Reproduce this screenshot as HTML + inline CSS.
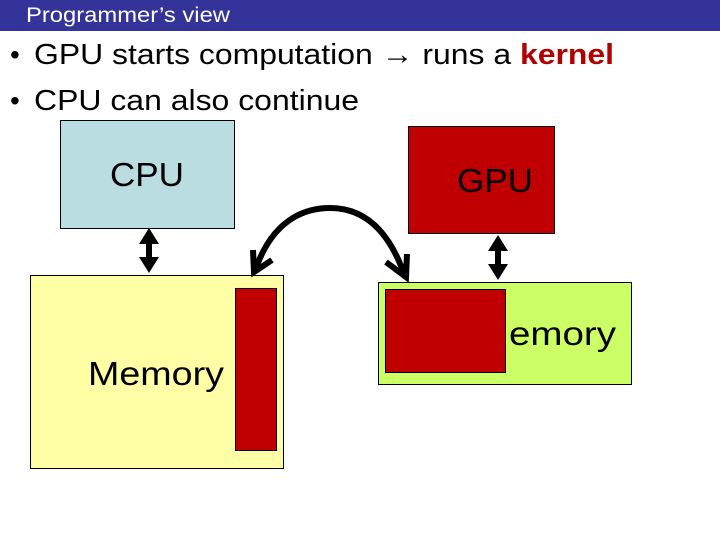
<!DOCTYPE html>
<html><head><style>body{margin:0;background:#fff}svg{display:block}</style></head><body>
<svg width="720" height="540" xmlns="http://www.w3.org/2000/svg" font-family="Liberation Sans, Arial, sans-serif">
<rect x="0" y="0" width="720" height="31" fill="#333399"/>
<text x="26" y="22" font-size="21" fill="#fff" textLength="204" lengthAdjust="spacingAndGlyphs">Programmer’s view</text>
<text x="10" y="64" font-size="28" fill="#000">•</text>
<text x="34" y="64" font-size="29" fill="#000" textLength="580" lengthAdjust="spacingAndGlyphs">GPU starts computation → runs a <tspan fill="#b00000" font-weight="bold">kernel</tspan></text>
<text x="10" y="110" font-size="28" fill="#000">•</text>
<text x="34" y="110" font-size="29" fill="#000" textLength="325" lengthAdjust="spacingAndGlyphs">CPU can also continue</text>
<rect x="60.5" y="120.5" width="174" height="108" fill="#b9dde1" stroke="#000"/>
<text x="110" y="186" font-size="33" textLength="74" lengthAdjust="spacingAndGlyphs">CPU</text>
<rect x="408.5" y="126.5" width="146" height="107" fill="#c00000" stroke="#000"/>
<text x="457" y="192" font-size="33" textLength="76" lengthAdjust="spacingAndGlyphs">GPU</text>
<rect x="30.5" y="275.5" width="253" height="193" fill="#ffffa6" stroke="#000"/>
<rect x="235.5" y="288.5" width="41" height="162" fill="#c00000" stroke="#000"/>
<text x="88" y="385" font-size="33" textLength="136" lengthAdjust="spacingAndGlyphs">Memory</text>
<rect x="378.5" y="282.5" width="253" height="102" fill="#ccff66" stroke="#000"/>
<rect x="385.5" y="289.5" width="120" height="83" fill="#c00000" stroke="#000"/>
<text x="509" y="345" font-size="33" textLength="107" lengthAdjust="spacingAndGlyphs">emory</text>
<g fill="#000">
<rect x="146" y="238" width="6" height="26"/>
<polygon points="149,228 139,244 159,244"/>
<polygon points="149,273 139,257 159,257"/>
<rect x="495" y="244" width="6" height="26"/>
<polygon points="498,235 488,251 508,251"/>
<polygon points="498,280 488,264 508,264"/>
</g>
<path d="M256,268 C275,215 310,208 330,208 C355,208 385,220 404,274" fill="none" stroke="#000" stroke-width="6"/>
<path d="M253,250 L254,272 L272,260" fill="none" stroke="#000" stroke-width="6"/>
<path d="M386,262 L406,277 L407,254" fill="none" stroke="#000" stroke-width="6"/>
</svg>
</body></html>
